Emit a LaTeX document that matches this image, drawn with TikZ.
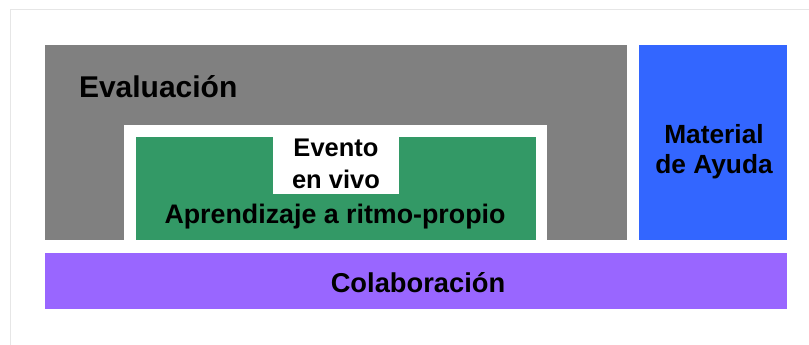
\documentclass[tikz,border=0pt]{standalone}
\usepackage{fontspec}
\setmainfont{Liberation Sans}
\definecolor{evalgray}{HTML}{808080}
\definecolor{selfgreen}{HTML}{339966}
\definecolor{helpblue}{HTML}{3366FF}
\definecolor{collabpurple}{HTML}{9966FF}
\definecolor{framegray}{HTML}{E6E6E6}
\tikzset{
  lbl/.style={inner sep=0pt, outer sep=0pt, text=black, anchor=base, align=center},
}
\begin{document}
\begin{tikzpicture}[x=1pt,y=-1pt]
\useasboundingbox (0,0) rectangle (809,345);
\fill[white] (0,0) rectangle (809,345);
% faint frame
\draw[framegray, line width=0.8pt] (10,345) -- (10,9.5) -- (809,9.5);
% shapes
\fill[evalgray] (45,45) rectangle (627,240);
\fill[white] (124,125) rectangle (547,240);
\fill[selfgreen] (136,137) rectangle (536,240);
\fill[white] (273,137) rectangle (399,194);
\fill[helpblue] (639,45) rectangle (787,240);
\fill[collabpurple] (45,253) rectangle (787,309);
% labels
\node[lbl, anchor=base west, font=\fontsize{30}{35}\selectfont\bfseries] (eval) at (79,97) {Evaluación};
\node[lbl, font=\fontsize{25.5}{32}\selectfont\bfseries] (evento) at (336,188) {Evento\\en vivo};
\node[lbl, font=\fontsize{26.8}{32}\selectfont\bfseries] (ritmo) at (335,223) {Aprendizaje a ritmo-propio};
\node[lbl, font=\fontsize{26.3}{30}\selectfont\bfseries] (material) at (714,173) {Material\\de Ayuda};
\node[lbl, font=\fontsize{27.3}{32}\selectfont\bfseries] (colab) at (418,292) {Colaboración};
\end{tikzpicture}
\end{document}
